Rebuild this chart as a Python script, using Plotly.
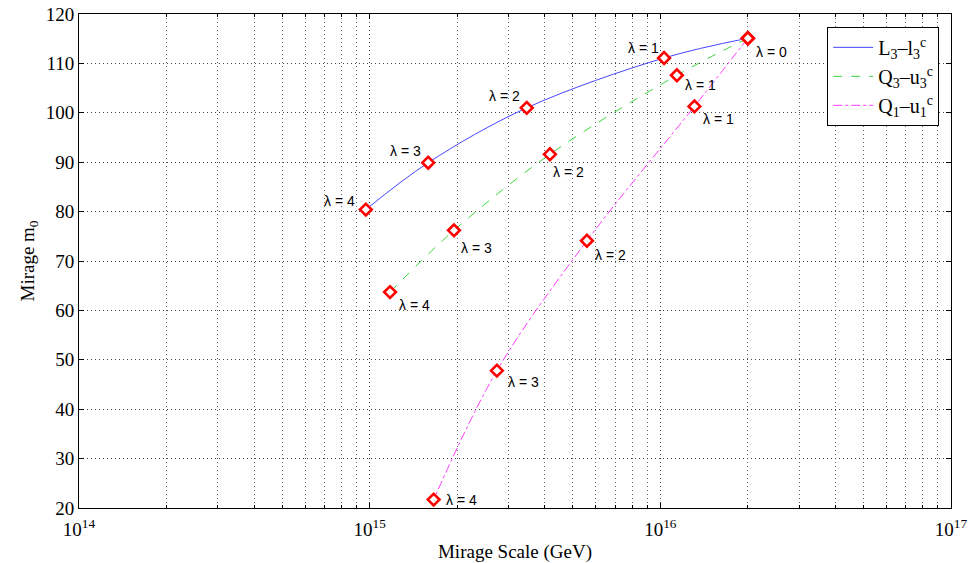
import numpy as np
import plotly.graph_objects as go

lam = [0, 1, 2, 3, 4]
L3_scale = [2.0e16, 1.03e16, 3.47e15, 1.59e15, 9.7e14]
L3_m0 = [115.1, 111.1, 101.0, 89.9, 80.4]
Q3_scale = [2.0e16, 1.14e16, 4.17e15, 1.95e15, 1.175e15]
Q3_m0 = [115.1, 107.6, 91.6, 76.2, 63.7]
Q1_scale = [2.0e16, 1.31e16, 5.59e15, 2.74e15, 1.66e15]
Q1_m0 = [115.1, 101.3, 74.1, 47.8, 21.7]

x_tickvals = [1e14, 1e15, 1e16, 1e17]
x_ticktext = ["10<sup>14</sup>", "10<sup>15</sup>", "10<sup>16</sup>", "10<sup>17</sup>"]
y_tickvals = [20, 30, 40, 50, 60, 70, 80, 90, 100, 110, 120]

serif = "Liberation Serif, Times New Roman, serif"
sans = "Liberation Sans, Arial, sans-serif"

fig = go.Figure()

series = [
    ("L<sub>3</sub>\u2013l<sub>3</sub><sup>c</sup>", L3_scale, L3_m0, "#4646ff", "solid"),
    ("Q<sub>3</sub>\u2013u<sub>3</sub><sup>c</sup>", Q3_scale, Q3_m0, "#3ad83a", "dash"),
    ("Q<sub>1</sub>\u2013u<sub>1</sub><sup>c</sup>", Q1_scale, Q1_m0, "#ff3cff", "dashdot"),
]
for name, xs, ys, col, dash in series:
    fig.add_trace(go.Scatter(x=xs, y=ys, mode="lines", name=name,
                             line=dict(color=col, width=1, dash=dash, shape="spline")))
for name, xs, ys, col, dash in series:
    fig.add_trace(go.Scatter(x=xs, y=ys, mode="markers", showlegend=False,
                             marker=dict(symbol="diamond", size=9, color="white",
                                         line=dict(color="red", width=2.6))))

# label offsets (style): (xanchor, xshift, yshift) per series, per lambda
offs = {
    0: [("left", 6, -14), ("right", -3, 10), ("right", -5, 12), ("right", -5, 12), ("right", -9, 9)],
    1: [None, ("left", 6, -10), ("left", 1, -18), ("left", 5, -18), ("left", 7, -13)],
    2: [None, ("left", 7, -13), ("left", 6, -14), ("left", 9, -11), ("left", 10, 0)],
}
for si, (name, xs, ys, col, dash) in enumerate(series):
    for k, l in enumerate(lam):
        o = offs[si][k]
        if o is None:
            continue
        fig.add_annotation(x=np.log10(xs[k]), y=ys[k], text=f"\u03bb = {l}",
                           showarrow=False, xanchor=o[0], yanchor="middle",
                           xshift=o[1], yshift=o[2],
                           font=dict(family=sans, size=14, color="black"))

axis_common = dict(showline=True, linecolor="black", linewidth=1, mirror="ticks",
                   ticks="inside", ticklen=5, tickcolor="black", automargin=False,
                   showgrid=True, gridcolor="#444444", griddash="1px,3px", gridwidth=1,
                   zeroline=False, tickfont=dict(family=serif, size=19, color="black"))

fig.update_xaxes(type="log", range=[14, 17], tickvals=x_tickvals, ticktext=x_ticktext,
                 ticklabelstandoff=4,
                 title=dict(text="Mirage Scale (GeV)", font=dict(family=serif, size=19, color="black"), standoff=6),
                 minor=dict(dtick="D1", showgrid=True, gridcolor="#666666", griddash="1px,3px",
                            ticks="inside", ticklen=3, tickcolor="black"),
                 **axis_common)
fig.update_yaxes(range=[20, 120], tickvals=y_tickvals,
                 title=dict(text="Mirage m<sub>0</sub>", font=dict(family=serif, size=19, color="black"), standoff=6),
                 **axis_common)

fig.update_layout(
    width=969, height=563,
    margin=dict(l=79, r=18, t=14, b=55, autoexpand=False),
    paper_bgcolor="white", plot_bgcolor="white",
    legend=dict(x=0.858, y=0.974, xanchor="left", yanchor="top",
                bgcolor="white", bordercolor="black", borderwidth=1,
                font=dict(family=serif, size=20, color="black"),
                itemwidth=40, tracegroupgap=0),
    showlegend=True,
)

fig.write_html("out.html")
